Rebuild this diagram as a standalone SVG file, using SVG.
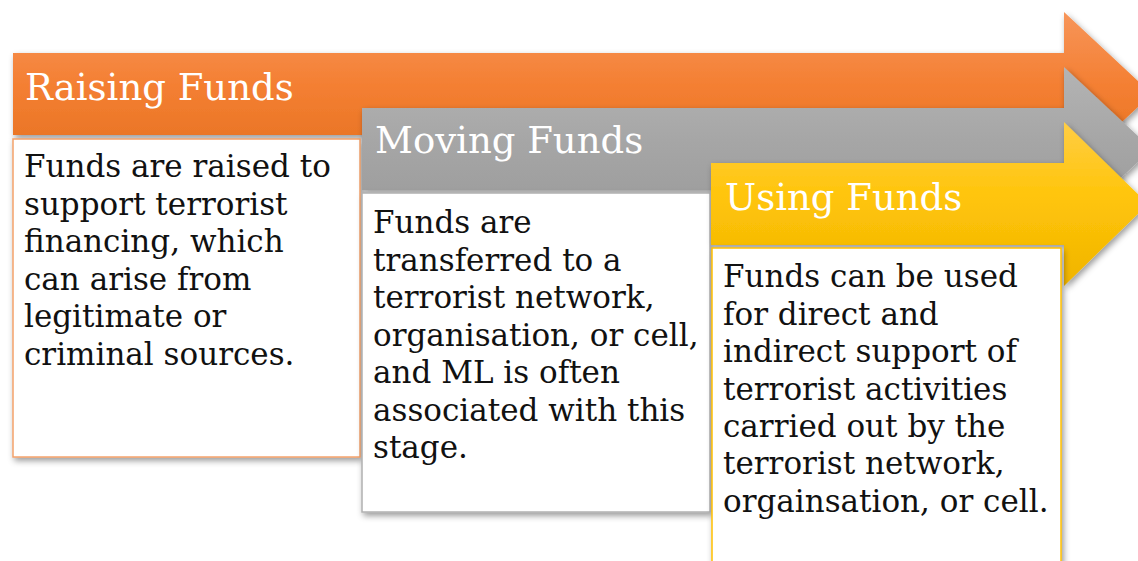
<svg xmlns="http://www.w3.org/2000/svg" width="1138" height="561" viewBox="0 0 1138 561">
<style>
.hdr{font-family:"DejaVu Serif","Liberation Serif",serif;font-size:37px;fill:#ffffff;}
.body{font-family:"DejaVu Serif","Liberation Serif",serif;font-size:31px;fill:#111111;}
.box{fill:#ffffff;stroke-width:1.5;filter:url(#sh);}
</style>
<defs>
<filter id="sh" x="-10%" y="-10%" width="130%" height="130%">
<feDropShadow dx="2" dy="3" stdDeviation="3" flood-color="#000" flood-opacity="0.4"/>
</filter>
<linearGradient id="gO" x1="0" y1="0" x2="0" y2="1">
<stop offset="0" stop-color="#f7955a"/><stop offset="0.45" stop-color="#f47f32"/><stop offset="1" stop-color="#e36f1e"/>
</linearGradient>
<linearGradient id="gG" x1="0" y1="0" x2="0" y2="1">
<stop offset="0" stop-color="#b4b4b4"/><stop offset="0.45" stop-color="#a6a6a6"/><stop offset="1" stop-color="#999999"/>
</linearGradient>
<linearGradient id="gY" x1="0" y1="0" x2="0" y2="1">
<stop offset="0" stop-color="#ffcd45"/><stop offset="0.45" stop-color="#ffc50a"/><stop offset="1" stop-color="#f0b400"/>
</linearGradient>
</defs>
<g id="raising">
<polygon points="13,53 1064,53 1064,12 1152,94 1064,176 1064,135 13,135" fill="url(#gO)" filter="url(#sh)"/>
<text class="hdr" x="25" y="100">Raising Funds</text>
<rect class="box" x="13" y="139" width="347" height="318" stroke="#f4a26b"/>
<text class="body" x="24"><tspan x="24" y="177">Funds are raised to</tspan><tspan x="24" y="214.5">support terrorist</tspan><tspan x="24" y="252">financing, which</tspan><tspan x="24" y="289.5">can arise from</tspan><tspan x="24" y="327">legitimate or</tspan><tspan x="24" y="364.5">criminal sources.</tspan></text>
</g>
<g id="moving">
<polygon points="362,108 1064,108 1064,67 1152,149 1064,231 1064,190 362,190" fill="url(#gG)" filter="url(#sh)"/>
<text class="hdr" x="375" y="153">Moving Funds</text>
<rect class="box" x="362" y="193" width="348" height="319" stroke="#b0b0b0"/>
<text class="body"><tspan x="373" y="233">Funds are</tspan><tspan x="373" y="270.5">transferred to a</tspan><tspan x="373" y="308">terrorist network,</tspan><tspan x="373" y="345.5">organisation, or cell,</tspan><tspan x="373" y="383">and ML is often</tspan><tspan x="373" y="420.5">associated with this</tspan><tspan x="373" y="458">stage.</tspan></text>
</g>
<g id="using">
<polygon points="711,163 1064,163 1064,122 1148,204 1064,286 1064,245 711,245" fill="url(#gY)" filter="url(#sh)"/>
<text class="hdr" x="725" y="210">Using Funds</text>
<rect class="box" x="712" y="248" width="349" height="330" stroke="#ffc000"/>
<text class="body"><tspan x="723" y="287">Funds can be used</tspan><tspan x="723" y="325">for direct and</tspan><tspan x="723" y="362">indirect support of</tspan><tspan x="723" y="400">terrorist activities</tspan><tspan x="723" y="437">carried out by the</tspan><tspan x="723" y="474">terrorist network,</tspan><tspan x="723" y="512">orgainsation, or cell.</tspan></text>
</g>
<g id="connectors"></g>
</svg>
